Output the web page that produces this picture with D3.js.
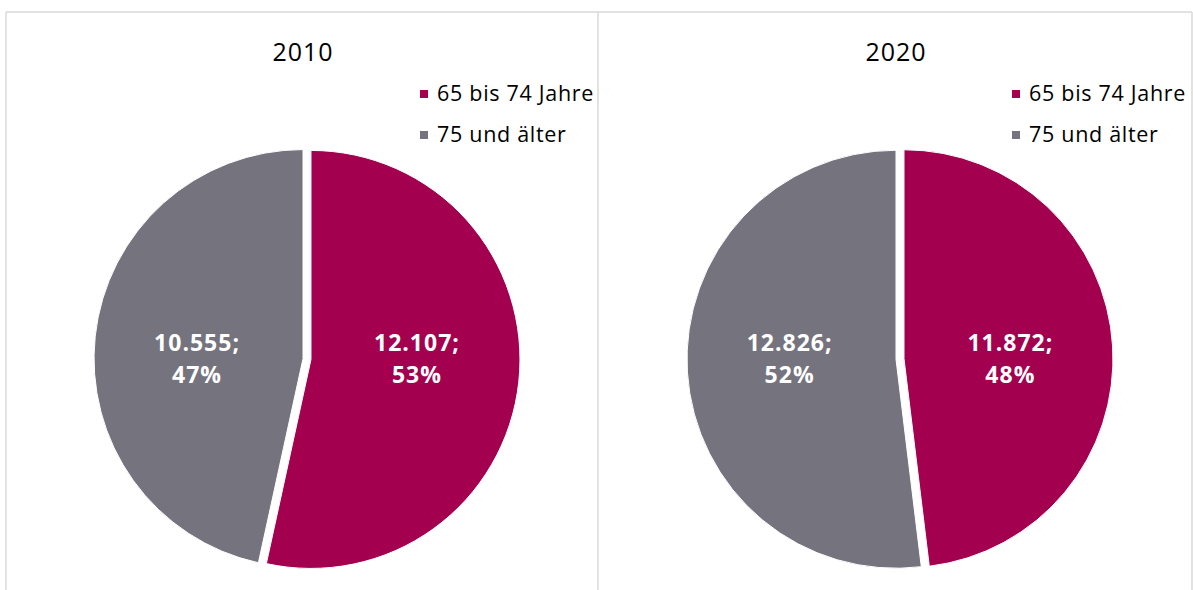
<!DOCTYPE html>
<html>
<body>
    <style>
        body, html {
            margin: 0;
            padding: 0;
            background: #fff;
        }
        svg {
            display: block;
            font-family: "Open Sans", sans-serif;
        }
    </style>

    <svg width="1193" height="590"></svg>

    <script src="https://d3js.org/d3.v7.min.js"></script>

    <script>
        var years = ["2010", "2020"];
        var categories = ["65 bis 74 Jahre", "75 und älter"];
        var values2010 = [12107, 10555];
        var values2020 = [11872, 12826];
        var valueLabels2010 = ["12.107", "10.555"];
        var valueLabels2020 = ["11.872", "12.826"];

        var colors = ["#a3004f", "#75747e"];
        var borderColor = "#d9d9d9";

        var svg = d3.select("svg");
        var width = 1193;
        var height = 590;

        var panels = [
            { year: years[0], values: values2010, labels: valueLabels2010, x0: 6, x1: 598 },
            { year: years[1], values: values2020, labels: valueLabels2020, x0: 598, x1: 1192 }
        ];

        var radius = 209;
        var explode = 4;

        var color = d3.scaleOrdinal().domain(categories).range(colors);
        var pie = d3.pie().sort(null).value(function(d) { return d.value; });
        var arc = d3.arc().innerRadius(0).outerRadius(radius);
        var labelArc = d3.arc().innerRadius(0).outerRadius(radius * 1.02);

        // BORDERS
        svg.append("line")
            .attr("x1", 6).attr("x2", 1192).attr("y1", 12).attr("y2", 12)
            .attr("stroke", borderColor).attr("stroke-width", 1.5);
        [6, 598, 1192].forEach(function(x) {
            svg.append("line")
                .attr("x1", x).attr("x2", x).attr("y1", 12).attr("y2", height)
                .attr("stroke", borderColor).attr("stroke-width", 1.5);
        });

        panels.forEach(function(p) {
            var mid = (p.x0 + p.x1) / 2;
            var g = svg.append("g");

            // TITLE
            g.append("text")
                .attr("x", mid + 1)
                .attr("y", 61)
                .attr("text-anchor", "middle")
                .attr("font-size", 25)
                .attr("letter-spacing", 1)
                .attr("fill", "#000")
                .text(p.year);

            // LEGEND
            categories.forEach(function(c, i) {
                var ly = 93 + i * 41;
                g.append("rect")
                    .attr("x", p.x0 + 414)
                    .attr("y", ly - 3)
                    .attr("width", 8)
                    .attr("height", 8)
                    .attr("fill", color(c));
                g.append("text")
                    .attr("x", p.x0 + 431)
                    .attr("y", ly)
                    .attr("dy", "0.35em")
                    .attr("font-size", 21.5)
                    .attr("letter-spacing", 0.7)
                    .attr("fill", "#000")
                    .text(c);
            });

            // PIE
            var data = categories.map(function(c, i) {
                return { cat: c, value: p.values[i], label: p.labels[i] };
            });
            var total = d3.sum(p.values);
            var arcs = pie(data);
            var pieG = g.append("g").attr("transform", "translate(" + (mid + 5) + ",359)");

            var slice = pieG.selectAll("g.slice").data(arcs).enter().append("g")
                .attr("class", "slice")
                .attr("transform", function(d) {
                    var a = (d.startAngle + d.endAngle) / 2;
                    return "translate(" + (Math.sin(a) * explode) + "," + (-Math.cos(a) * explode) + ")";
                });

            slice.append("path")
                .attr("d", arc)
                .attr("fill", function(d) { return color(d.data.cat); })
                .attr("stroke", "#fff")
                .attr("stroke-width", 1);

            // labels: horizontal position from the slice centroid, kept level with the pie centre
            var lbl = slice.append("text")
                .attr("transform", function(d) {
                    var c = labelArc.centroid(d);
                    return "translate(" + c[0] + ",0)";
                })
                .attr("text-anchor", "middle")
                .attr("font-size", 23)
                .attr("font-weight", "bold")
                .attr("letter-spacing", 1)
                .attr("fill", "#fff");
            lbl.append("tspan")
                .attr("x", 0)
                .attr("y", -8)
                .text(function(d) { return d.data.label + ";"; });
            lbl.append("tspan")
                .attr("x", 0)
                .attr("y", 24)
                .text(function(d) { return Math.round(d.data.value / total * 100) + "%"; });
        });
    </script>
</body>
</html>
